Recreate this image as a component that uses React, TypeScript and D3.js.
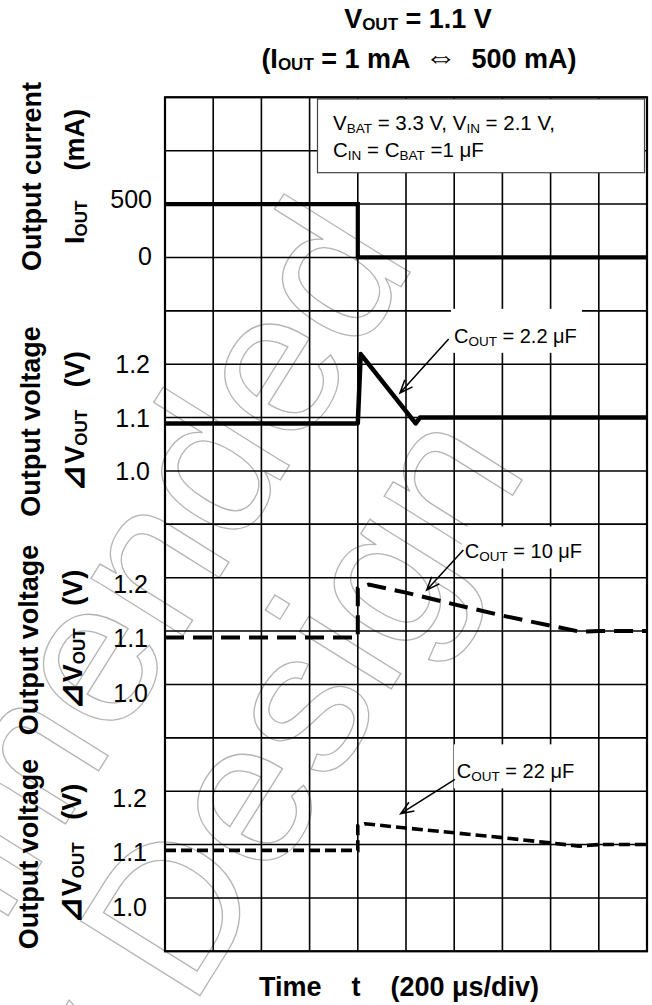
import * as d3 from "d3";

// time axis: 200 us per division, 10 divisions
const timeDivs = [0, 200, 400, 600, 800, 1000, 1200, 1400, 1600, 1800, 2000];

// output current step (mA)
const currentTime = [0, 800, 800, 2000];
const currentMA = [500, 500, 0, 0];

// output voltage, COUT = 2.2 uF
const cout22nTime = [0, 800, 812, 1040, 1058, 2000];
const cout22nVolt = [1.089, 1.089, 1.219, 1.089, 1.1, 1.1];

// output voltage, COUT = 10 uF
const cout10Time = [0, 800, 800, 845, 1000, 1200, 1400, 1600, 1720, 1800, 2000];
const cout10Volt = [1.088, 1.088, 1.18, 1.187, 1.172, 1.15, 1.129, 1.11, 1.099, 1.1, 1.1];

// output voltage, COUT = 22 uF
const cout22Time = [0, 800, 800, 830, 1000, 1200, 1400, 1600, 1720, 1800, 2000];
const cout22Volt = [1.089, 1.089, 1.135, 1.139, 1.131, 1.122, 1.113, 1.103, 1.097, 1.1, 1.1];

const currentTicks = [500, 0];
const voltTicks = [1.2, 1.1, 1.0];

const W = 652;
const H = 1005;
const plotLeft = 165;
const plotRight = 647;
const plotTop = 97.3;
const rowH = 53.375;
const font = "'Liberation Sans', Arial, Helvetica, sans-serif";

const panels = [
  { domain: [-500, 1500], step: 500, ticks: currentTicks, fmt: (d: number) => String(d), shift: [-5, -1], tickX: 152, line1: "Output current", tri: "", sym: "I", unit: "    (mA)", labelY: 176.5, lx: [41, 84] },
  { domain: [0.9, 1.3], step: 0.1, ticks: voltTicks, fmt: d3.format(".1f"), shift: [0, 0, 0], tickX: 150, line1: "Output voltage", tri: "\u22BF", sym: "V", unit: "   (V)", labelY: 421.5, lx: [40, 84] },
  { domain: [0.9, 1.3], step: 0.1, ticks: voltTicks, fmt: d3.format(".1f"), shift: [6, 6.5, 8.5], tickX: 148, line1: "Output voltage", tri: "\u22BF", sym: "V", unit: "   (V)", labelY: 640, lx: [38, 82] },
  { domain: [0.9, 1.3], step: 0.1, ticks: voltTicks, fmt: d3.format(".1f"), shift: [6.5, 7, 9.5], tickX: 147, line1: "Output voltage", tri: "\u22BF", sym: "V", unit: "   (V)", labelY: 854, lx: [38, 81] },
];

const series = [
  { panel: 0, t: currentTime, v: currentMA, width: 4.2, dash: undefined as string | undefined, join: "miter" },
  { panel: 1, t: cout22nTime, v: cout22nVolt, width: 4.5, dash: undefined, join: "round" },
  { panel: 2, t: cout10Time, v: cout10Volt, width: 4, dash: "19 9", join: "miter" },
  { panel: 3, t: cout22Time, v: cout22Volt, width: 3.6, dash: "11 5", join: "miter" },
];

const annotations = [
  { panel: 1, value: "2.2 \u03BCF", text: [1199, 1.24], from: [1177, 1.247], tip: [975, 1.146], padTop: 34 },
  { panel: 2, value: "10 \u03BCF", text: [1244, 1.236], from: [1238, 1.252], tip: [1086, 1.177], padTop: 32 },
  { panel: 3, value: "22 \u03BCF", text: [1211, 1.224], from: [1203, 1.222], tip: [978, 1.158], padTop: 34 },
];

function arrowPath(x0: number, y0: number, x1: number, y1: number): string {
  const a = Math.atan2(y1 - y0, x1 - x0);
  const len = 14;
  const spread = 0.38;
  const h1 = [x1 - len * Math.cos(a - spread), y1 - len * Math.sin(a - spread)];
  const h2 = [x1 - len * Math.cos(a + spread), y1 - len * Math.sin(a + spread)];
  return `M${x0},${y0}L${x1},${y1}M${h1[0]},${h1[1]}L${x1},${y1}L${h2[0]},${h2[1]}`;
}

export default function App() {
  const x = d3.scaleLinear().domain([0, 2000]).range([plotLeft, plotRight]);
  const ys = panels.map((p, i) => {
    const top = plotTop + i * 4 * rowH;
    return d3.scaleLinear().domain(p.domain).range([top + 4 * rowH, top]);
  });
  const plotBottom = plotTop + 16 * rowH;

  return (
    <svg
      width={W}
      height={H}
      viewBox={`0 0 ${W} ${H}`}
      style={{ position: "absolute", left: 0, top: 0, background: "#fff" }}
      fontFamily={font}
    >
      <rect width={W} height={H} fill="#fff" />

      {/* watermark */}
      <g transform="rotate(-58)" fill="none" stroke="#b4b4b4" strokeWidth={1.3} fontSize={205}>
        <text x={0} y={492} textAnchor="end">Not Recommended</text>
        <text x={-117} y={697} textAnchor="end">for New Design</text>
      </g>

      {/* grid */}
      <g stroke="#000" strokeWidth={1.6}>
        {timeDivs.map((t) => (
          <line key={`v${t}`} x1={x(t)} x2={x(t)} y1={plotTop} y2={plotBottom} />
        ))}
        {panels.map((p, i) =>
          d3.range(5).map((k) => {
            const yy = ys[i](p.domain[0] + k * p.step);
            return <line key={`h${i}-${k}`} x1={plotLeft} x2={plotRight} y1={yy} y2={yy} />;
          })
        )}
      </g>

      {/* conditions box */}
      <rect x={317.5} y={99} width={327} height={73.7} fill="#fff" stroke="#444" strokeWidth={1.2} />
      <g fontSize={20.5} fill="#000">
        <text x={333} y={130}>
          V<tspan fontSize={13.5} dy={3}>BAT</tspan>
          <tspan dy={-3}> = 3.3 V, V</tspan>
          <tspan fontSize={13.5} dy={3}>IN</tspan>
          <tspan dy={-3}> = 2.1 V,</tspan>
        </text>
        <text x={333} y={157}>
          C<tspan fontSize={13.5} dy={3}>IN</tspan>
          <tspan dy={-3}> = C</tspan>
          <tspan fontSize={13.5} dy={3}>BAT</tspan>
          <tspan dy={-3}> =1 {"\u03BC"}F</tspan>
        </text>
      </g>

      {/* annotation label backgrounds */}
      {annotations.map((a, i) => {
        const tx = x(a.text[0]);
        const ty = ys[a.panel](a.text[1]);
        return <rect key={`ab${i}`} x={tx - 3} y={ty - a.padTop} width={131} height={a.padTop + 10} fill="#fff" />;
      })}

      <rect x={plotLeft} y={plotTop} width={plotRight - plotLeft} height={plotBottom - plotTop} fill="none" stroke="#000" strokeWidth={2.2} />

      {/* traces */}
      {series.map((s, i) => {
        const y = ys[s.panel];
        const pts = d3.zip(s.t, s.v) as [number, number][];
        const path = d3
          .line<[number, number]>()
          .x((d) => x(d[0]))
          .y((d) => y(d[1]))(pts);
        return (
          <path
            key={`s${i}`}
            d={path || ""}
            fill="none"
            stroke="#000"
            strokeWidth={s.width}
            strokeDasharray={s.dash}
            strokeLinejoin={s.join as "miter" | "round"}
          />
        );
      })}

      {/* annotations */}
      {annotations.map((a, i) => {
        const y = ys[a.panel];
        return (
          <g key={`an${i}`}>
            <path d={arrowPath(x(a.from[0]), y(a.from[1]), x(a.tip[0]), y(a.tip[1]))} fill="none" stroke="#000" strokeWidth={1.5} />
            <text x={x(a.text[0])} y={y(a.text[1])} fontSize={20}>
              C<tspan fontSize={13.5} dy={3}>OUT</tspan>
              <tspan dy={-3}> = {a.value}</tspan>
            </text>
          </g>
        );
      })}

      {/* tick labels */}
      {panels.map((p, i) =>
        p.ticks.map((t, k) => (
          <text key={`t${i}-${k}`} x={p.tickX} y={ys[i](t) + 9 + p.shift[k]} textAnchor="end" fontSize={25}>
            {p.fmt(t)}
          </text>
        ))
      )}

      {/* y labels */}
      {panels.map((p, i) => (
        <g key={`yl${i}`} fontWeight="bold" fontSize={27}>
          <text transform={`translate(${p.lx[0]},${p.labelY}) rotate(-90)`} textAnchor="middle">
            {p.line1}
          </text>
          <text transform={`translate(${p.lx[1]},${p.labelY}) rotate(-90)`} textAnchor="middle" style={{ whiteSpace: "pre" }}>
            {p.tri ? <tspan fontSize={33}>{p.tri}</tspan> : null}
            <tspan>{p.sym}</tspan>
            <tspan fontSize={17} dy={3}>OUT</tspan>
            <tspan dy={-3}>{p.unit}</tspan>
          </text>
        </g>
      ))}

      {/* title */}
      <g fontWeight="bold" fontSize={27} textAnchor="middle">
        <text x={418} y={28}>
          V<tspan fontSize={17} dy={2}>OUT</tspan>
          <tspan dy={-2}> = 1.1 V</tspan>
        </text>
        <text x={419} y={68} style={{ whiteSpace: "pre" }}>
          (I<tspan fontSize={17} dy={2}>OUT</tspan>
          <tspan dy={-2}>{" = 1 mA  "}</tspan>
          <tspan fontSize={32}>{"\u21D4"}</tspan>
          <tspan>{"  500 mA)"}</tspan>
        </text>
      </g>

      {/* x axis title */}
      <text x={399} y={996} textAnchor="middle" fontWeight="bold" fontSize={27} style={{ whiteSpace: "pre" }}>
        {"Time    t    (200 \u03BCs/div)"}
      </text>
    </svg>
  );
}
